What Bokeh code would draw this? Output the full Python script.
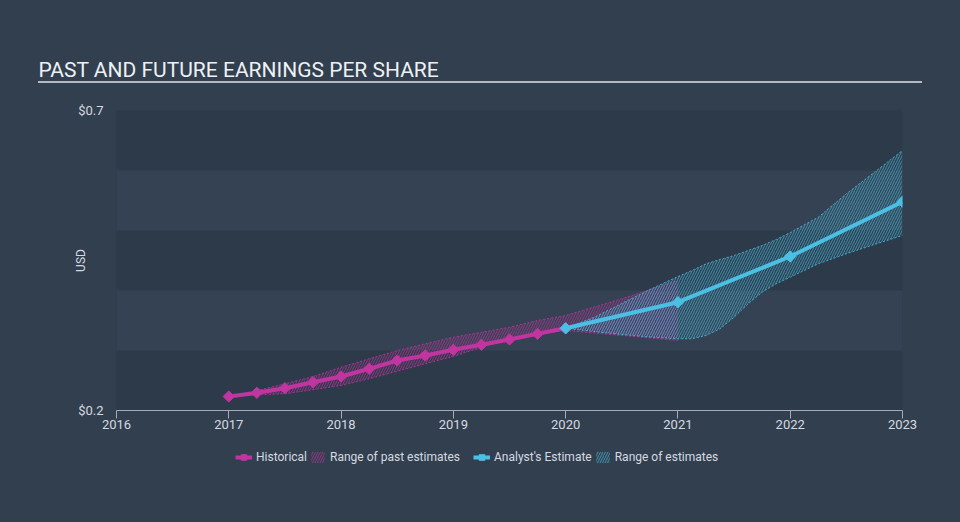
import re
import numpy as np
from bokeh.plotting import figure
from bokeh.layouts import column
from bokeh.models import (FixedTicker, Range1d, Legend, LegendItem, InlineStyleSheet,
                          SingleIntervalTicker, CustomJSTickFormatter)
from bokeh.embed import file_html
from bokeh.resources import INLINE

# ---------------- data ----------------
hist_x = [2017.0, 2017.25, 2017.5, 2017.75, 2018.0, 2018.25, 2018.5, 2018.75,
          2019.0, 2019.25, 2019.5, 2019.75, 2020.0]
hist_eps = [0.2233, 0.2295, 0.2372, 0.2472, 0.2567, 0.2695, 0.2833, 0.2917,
            0.3012, 0.3095, 0.3183, 0.3278, 0.3370]

past_x = [2017.0, 2017.25, 2017.5, 2017.75, 2018.0, 2018.25, 2018.5, 2018.75,
          2019.0, 2019.25, 2019.5, 2019.75, 2020.0, 2020.5, 2021.0]
past_high = [0.2233, 0.2333, 0.2445, 0.2567, 0.2722, 0.2862, 0.3000, 0.3112,
             0.3222, 0.3305, 0.3388, 0.3500, 0.3583, 0.3862, 0.4167]
past_low = [0.2233, 0.2262, 0.2278, 0.2345, 0.2417, 0.2528, 0.2655, 0.2778,
            0.2900, 0.3055, 0.3178, 0.3278, 0.3333, 0.3250, 0.3167]

est_x = [2020.0, 2021.0, 2022.0, 2023.0]
est_eps = [0.3370, 0.3805, 0.4567, 0.5480]

rng_x = [2020.0, 2020.25, 2020.5, 2020.75, 2021.0, 2021.125, 2021.25, 2021.375, 2021.5,
         2021.625, 2021.75, 2021.875, 2022.0, 2022.25, 2022.5, 2022.75, 2023.0]
rng_high = [0.3372, 0.3550, 0.3783, 0.4017, 0.4233, 0.4333, 0.4445, 0.4517, 0.4583,
            0.4667, 0.4750, 0.4850, 0.4967, 0.5222, 0.5612, 0.5972, 0.6333]
rng_low = [0.3372, 0.3317, 0.3267, 0.3225, 0.3195, 0.3195, 0.3250, 0.3362, 0.3555,
           0.3778, 0.3972, 0.4112, 0.4222, 0.4445, 0.4612, 0.4767, 0.4917]

year_ticks = [2016, 2017, 2018, 2019, 2020, 2021, 2022, 2023]
usd_ticks = [0.2, 0.7]

title_text = "PAST AND FUTURE EARNINGS PER SHARE"
y_label = "USD"
legend_past = ["Historical", "Range of past estimates"]
legend_future = ["Analyst's Estimate", "Range of estimates"]

# ---------------- style ----------------
PAGE_BG = "#323f4f"
DARK = "#2d3a4a"
LIGHT = "#344253"
MAGENTA = "#c0359f"
BLUE = "#4cc0e4"
TEXT = "#d5dae0"
FONT = "Roboto"

reset_css = ("* { outline: none !important; border: none !important; box-shadow: none !important; }\n"
             ":host { background-color: %s; }\n" % PAGE_BG)
underline_css = InlineStyleSheet(css=reset_css + """
:host { position: relative; }
:host::after { content: ""; position: absolute; left: 38px; top: 81px; width: 884px;
               height: 2px; background: #b4bac2; pointer-events: none; }
""")
plain_css = InlineStyleSheet(css=reset_css)
BG_STYLE = {"background-color": PAGE_BG}

# ---------------- main chart ----------------
p = figure(width=960, height=446, output_backend="svg", toolbar_location=None,
           x_range=Range1d(2016, 2023), y_range=Range1d(0.2, 0.7),
           min_border_left=116, min_border_right=58, min_border_top=110,
           min_border_bottom=36, stylesheets=[underline_css], styles=BG_STYLE)
p.background_fill_color = DARK
p.border_fill_color = None          # page background shows through (no seams)
p.outline_line_color = None

p.title.text = title_text
p.title.align = "left"
p.title.offset = -78
p.title.standoff = 57
p.title.text_font = FONT
p.title.text_font_size = "21px"
p.title.text_font_style = "normal"
p.title.text_color = "#eef1f4"

p.xgrid.visible = False
p.ygrid.ticker = SingleIntervalTicker(interval=0.1)
p.ygrid.grid_line_color = None
p.ygrid.band_fill_color = LIGHT
p.ygrid.band_fill_alpha = 1.0

p.xaxis.ticker = FixedTicker(ticks=year_ticks)
p.xaxis.formatter = CustomJSTickFormatter(code="return tick.toFixed(0)")
p.xaxis.axis_line_color = "#a3adb8"
p.xaxis.major_tick_line_color = "#a3adb8"
p.xaxis.major_tick_out = 8
p.xaxis.major_tick_in = 0
p.xaxis.minor_tick_line_color = None
p.xaxis.major_label_standoff = 1
p.xaxis.major_label_text_color = TEXT
p.xaxis.major_label_text_font = FONT
p.xaxis.major_label_text_font_size = "13px"

p.yaxis.ticker = FixedTicker(ticks=usd_ticks)
p.yaxis.formatter = CustomJSTickFormatter(code="return '$' + tick.toFixed(1)")
p.yaxis.axis_line_color = None
p.yaxis.major_tick_line_color = None
p.yaxis.minor_tick_line_color = None
p.yaxis.major_tick_out = 0
p.yaxis.major_label_standoff = 13
p.yaxis.major_label_text_color = TEXT
p.yaxis.major_label_text_font = FONT
p.yaxis.major_label_text_font_size = "13px"
p.yaxis.axis_label = y_label
p.yaxis.axis_label_standoff = -13
p.yaxis.axis_label_text_font = FONT
p.yaxis.axis_label_text_font_size = "12px"
p.yaxis.axis_label_text_font_style = "normal"
p.yaxis.axis_label_text_color = TEXT

AREA_PAST = dict(fill_color=MAGENTA, fill_alpha=0.05, hatch_pattern="/", hatch_color=MAGENTA,
                 hatch_alpha=0.6, hatch_scale=5, hatch_weight=1)
AREA_EST = dict(fill_color=BLUE, fill_alpha=0.05, hatch_pattern="/", hatch_color=BLUE,
                hatch_alpha=0.6, hatch_scale=5, hatch_weight=1)
EDGE = dict(line_width=1, line_dash="2 2", line_alpha=0.8)
MARK = dict(marker="square", angle=np.pi / 4, size=8)


def draw_series(fig):
    r = {}
    r["past"] = fig.varea(x=past_x, y1=past_low, y2=past_high, **AREA_PAST)
    fig.line(past_x, past_high, line_color=MAGENTA, **EDGE)
    fig.line(past_x, past_low, line_color=MAGENTA, **EDGE)
    r["est_rng"] = fig.varea(x=rng_x, y1=rng_low, y2=rng_high, **AREA_EST)
    fig.line(rng_x, rng_high, line_color=BLUE, **EDGE)
    fig.line(rng_x, rng_low, line_color=BLUE, **EDGE)
    r["hist_l"] = fig.line(hist_x, hist_eps, line_color=MAGENTA, line_width=4)
    r["hist_m"] = fig.scatter(hist_x, hist_eps, fill_color=MAGENTA, line_color=MAGENTA, **MARK)
    r["est_l"] = fig.line(est_x, est_eps, line_color=BLUE, line_width=4)
    r["est_m"] = fig.scatter(est_x, est_eps, fill_color=BLUE, line_color=BLUE, **MARK)
    return r


draw_series(p)

# ---------------- legend strip (same series, ranges kept off-screen) ----------------
q = figure(width=960, height=76, output_backend="svg", toolbar_location=None,
           x_axis_type=None, y_axis_type=None, x_range=Range1d(0, 1), y_range=Range1d(0, 1),
           min_border_left=0, min_border_right=0, min_border_top=0, min_border_bottom=0,
           stylesheets=[plain_css], styles=BG_STYLE)
q.background_fill_color = None
q.border_fill_color = None
q.outline_line_color = None
q.grid.visible = False

rq = draw_series(q)


def make_legend(items, x):
    lg = Legend(items=items, location=(x, 58), orientation="horizontal",
                background_fill_alpha=0, border_line_color=None, padding=0, margin=0,
                spacing=2, label_standoff=4, glyph_width=17, glyph_height=14,
                label_height=14, label_text_font=FONT, label_text_font_size="12px",
                label_text_color=TEXT)
    q.add_layout(lg, "center")


make_legend([LegendItem(label=legend_past[0], renderers=[rq["hist_l"], rq["hist_m"]]),
             LegendItem(label=legend_past[1], renderers=[rq["past"]])], 119)
make_legend([LegendItem(label=legend_future[0], renderers=[rq["est_l"], rq["est_m"]]),
             LegendItem(label=legend_future[1], renderers=[rq["est_rng"]])], 357)

layout = column(p, q, spacing=0, styles=BG_STYLE)
html = file_html(layout, INLINE)
html = re.sub(r"<body([^>]*)>", r'<body\1 style="background-color:%s;">' % PAGE_BG, html, count=1)
html = html.replace("</head>", "<style>html,body{background-color:%s !important;}</style></head>" % PAGE_BG, 1)
open("out.html", "w").write(html)
